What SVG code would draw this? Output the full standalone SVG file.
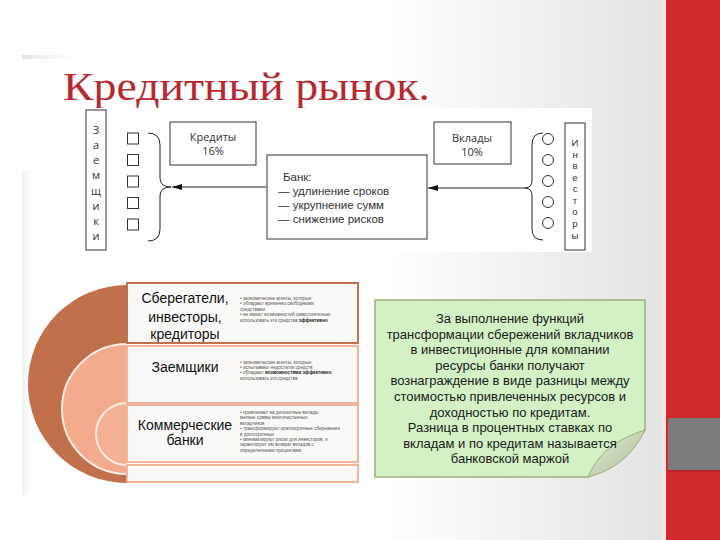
<svg xmlns="http://www.w3.org/2000/svg" width="720" height="540" viewBox="0 0 720 540">
<defs>
<linearGradient id="bg" x1="0" y1="0" x2="666" y2="0" gradientUnits="userSpaceOnUse">
<stop offset="0.58" stop-color="#FFFFFF"/>
<stop offset="1" stop-color="#E3E3E3"/>
</linearGradient>
<linearGradient id="flap" x1="0" y1="0" x2="1" y2="1">
<stop offset="0" stop-color="#E6EED8"/>
<stop offset="1" stop-color="#A9BC92"/>
</linearGradient>
<linearGradient id="ledge" x1="0" y1="0" x2="1" y2="0">
<stop offset="0" stop-color="#E2E2E2"/>
<stop offset="1" stop-color="#FFFFFF" stop-opacity="0"/>
</linearGradient>
<marker id="ah" viewBox="0 0 10 6" refX="10" refY="3" markerWidth="10" markerHeight="6" orient="auto" markerUnits="userSpaceOnUse">
<path d="M0,0 L10,3 L0,6 Z" fill="#111"/>
</marker>
<style>
.sm{font-family:"Open Sans","Liberation Sans",sans-serif;fill:#333}
.bk{font-family:"Liberation Sans",Arial,sans-serif;fill:#333;font-size:11.5px}
.vt{font-family:"Liberation Sans",Arial,sans-serif;fill:#333;font-size:9.5px;text-anchor:middle}
.box{fill:#fff;stroke:#333;stroke-width:1}
.lbl{font-family:"Liberation Sans",Arial,sans-serif;font-size:14px;fill:#111;text-anchor:middle}
.tiny{font-family:"Liberation Sans",Arial,sans-serif;font-size:4.6px;fill:#555}
.note{font-family:"Liberation Sans",Arial,sans-serif;font-size:13px;fill:#1a1a1a;text-anchor:middle}
.row{fill:#FBF9F8;stroke-width:2}
.conn{stroke:#222;stroke-width:1;fill:none}
</style>
</defs>

<!-- background -->
<rect x="0" y="0" width="720" height="540" fill="url(#bg)"/>
<rect x="22" y="55" width="70" height="4" fill="url(#ledge)"/>
<rect x="22" y="170" width="14" height="325" fill="url(#ledge)" opacity="0.5"/>
<rect x="662" y="0" width="4" height="540" fill="#F3E6E6"/>
<rect x="666" y="0" width="54" height="540" fill="#D1282E"/>
<rect x="666" y="0" width="2" height="540" fill="#E3222A"/>
<rect x="668" y="418" width="52" height="52" fill="#7C7C7C"/>
<rect x="668" y="470" width="52" height="1.5" fill="#B02026"/>

<!-- title -->
<text id="title" x="63" y="100" font-family="'Liberation Serif','DejaVu Serif',serif" font-size="41" fill="#B8282E" textLength="367" lengthAdjust="spacingAndGlyphs">Кредитный рынок.</text>

<!-- top diagram -->
<rect x="80" y="108" width="512" height="144" fill="#FFFFFF"/>

<g id="zaemshiki">
<rect class="box" x="86" y="110" width="20" height="140"/>
<g class="sm" font-size="11" text-anchor="middle">
<text x="96" y="134">З</text><text x="96" y="149">а</text><text x="96" y="164">е</text><text x="96" y="179">м</text>
<text x="96" y="195">щ</text><text x="96" y="210">и</text><text x="96" y="225">к</text><text x="96" y="240">и</text>
</g>
</g>

<g id="borrowers">
<rect class="box" x="127.5" y="133" width="11" height="11"/>
<rect class="box" x="127.5" y="154.5" width="11" height="11"/>
<rect class="box" x="127.5" y="176" width="11" height="11"/>
<rect class="box" x="127.5" y="197.5" width="11" height="11"/>
<rect class="box" x="127.5" y="219" width="11" height="11"/>
</g>

<g id="credits">
<rect class="box" x="170" y="122" width="86" height="43"/>
<text class="sm" x="213" y="141" font-size="11" text-anchor="middle">Кредиты</text>
<text class="sm" x="213" y="155" font-size="11" text-anchor="middle">16%</text>
</g>

<g id="bank">
<rect class="box" x="267" y="155" width="160" height="84"/>
<text class="bk" x="283" y="181">Банк:</text>
<text class="bk" x="278" y="195">— удлинение сроков</text>
<text class="bk" x="278" y="209">— укрупнение сумм</text>
<text class="bk" x="278" y="223">— снижение рисков</text>
</g>

<g id="deposits">
<rect class="box" x="434" y="122" width="77" height="42"/>
<text class="sm" x="472" y="142" font-size="11" text-anchor="middle">Вклады</text>
<text class="sm" x="472" y="156" font-size="11" text-anchor="middle">10%</text>
</g>

<g id="investors-circles" fill="#fff" stroke="#333" stroke-width="1">
<circle cx="548" cy="139" r="5.5"/>
<circle cx="548" cy="160" r="5.5"/>
<circle cx="548" cy="181" r="5.5"/>
<circle cx="548" cy="202" r="5.5"/>
<circle cx="548" cy="223" r="5.5"/>
</g>

<g id="investory">
<rect class="box" x="565" y="123" width="20" height="127"/>
<text class="vt" x="575" y="146" font-size="11.5">И</text>
<text class="vt" x="575" y="157.5">н</text>
<text class="vt" x="575" y="169">в</text>
<text class="vt" x="575" y="180.5">е</text>
<text class="vt" x="575" y="192">с</text>
<text class="vt" x="575" y="203.5">т</text>
<text class="vt" x="575" y="215">о</text>
<text class="vt" x="575" y="226.5">р</text>
<text class="vt" x="575" y="239">ы</text>
</g>

<g id="connectors">
<path class="conn" d="M148,133 Q160,133 160,145 V178 Q160,187 171,187 Q160,187 160,196 V229 Q160,241 148,241"/>
<path class="conn" d="M543,133 Q532,133 532,145 V180 Q532,188 525,188 Q532,188 532,196 V229 Q532,240 543,240"/>
<line class="conn" x1="266" y1="187" x2="172" y2="187" marker-end="url(#ah)"/>
<line class="conn" x1="525" y1="188" x2="428" y2="188" marker-end="url(#ah)"/>
</g>

<!-- semicircles -->
<g id="semicircles">
<path d="M127,285 A99,99 0 0 0 127,483 Z" fill="#C0714C"/>
<path d="M127,344 A65,65 0 0 0 127,474 Z" fill="#F3AB8C" stroke="#FCEDE4" stroke-width="2"/>
<path d="M127,403 A31,31 0 0 0 127,465 Z" fill="#F4B094" stroke="#FCEDE4" stroke-width="2"/>
</g>

<!-- table rows -->
<g id="row-savers">
<rect class="row" x="127" y="283" width="231" height="60" stroke="#C0714C"/>
<text class="lbl" x="185" y="303">Сберегатели,</text>
<text class="lbl" x="185" y="322">инвесторы,</text>
<text class="lbl" x="185" y="339">кредиторы</text>
<g class="tiny">
<text x="240" y="300">• экономические агенты, которые:</text>
<text x="240" y="305.4">• обладают временно свободными</text>
<text x="240" y="310.8">  средствами</text>
<text x="240" y="316.2">• не имеют возможностей самостоятельно</text>
<text x="240" y="321.6">  использовать эти средства <tspan font-weight="bold" fill="#222">эффективно</tspan></text>
</g>
</g>

<g id="row-borrowers">
<rect class="row" x="127" y="346" width="231" height="57" stroke="#F2B49B"/>
<text class="lbl" x="185" y="372">Заемщики</text>
<g class="tiny">
<text x="240" y="363.5">• экономические агенты, которые:</text>
<text x="240" y="368.9">• испытывают недостаток средств</text>
<text x="240" y="374.3">• обладают <tspan font-weight="bold" fill="#222">возможностями эффективно</tspan></text>
<text x="240" y="379.7">  использовать эти средства</text>
</g>
</g>

<g id="row-banks">
<rect class="row" x="127" y="405" width="231" height="57" stroke="#F2B49B"/>
<text class="lbl" x="185" y="430">Коммерческие</text>
<text class="lbl" x="185" y="445">банки</text>
<g class="tiny">
<text x="240" y="414">• привлекают на депозитные вклады</text>
<text x="240" y="419.4">  мелкие суммы многочисленных</text>
<text x="240" y="424.8">  вкладчиков</text>
<text x="240" y="430.2">• трансформируют краткосрочные сбережения</text>
<text x="240" y="435.6">  в долгосрочные</text>
<text x="240" y="441">• минимизируют риски для инвесторов, и</text>
<text x="240" y="446.4">  гарантируют им возврат вкладов с</text>
<text x="240" y="451.8">  определенными процентами</text>
</g>
</g>

<g id="row-empty">
<rect class="row" x="127" y="465" width="231" height="17" stroke="#F2B49B"/>
</g>

<!-- green note -->
<g id="note">
<path d="M375,300 H645 V430 Q622,462 588,477 H375 Z" fill="#D3F1C4" stroke="#9FAE7C" stroke-width="1.5"/>
<path d="M588,477 C598,454 614,440 645,430 C632,457 612,471 588,477 Z" fill="url(#flap)" stroke="#9FAE7C" stroke-width="1"/>
<text class="note" x="510" y="323">За выполнение функций</text>
<text class="note" x="510" y="338.6">трансформации сбережений вкладчиков</text>
<text class="note" x="510" y="354.2">в инвестиционные для компании</text>
<text class="note" x="510" y="369.8">ресурсы банки получают</text>
<text class="note" x="510" y="385.4">вознаграждение в виде разницы между</text>
<text class="note" x="510" y="401">стоимостью привлеченных ресурсов и</text>
<text class="note" x="510" y="416.6">доходностью по кредитам.</text>
<text class="note" x="510" y="432.2">Разница в процентных ставках по</text>
<text class="note" x="510" y="447.8">вкладам и по кредитам называется</text>
<text class="note" x="510" y="463.4">банковской маржой</text>
</g>
</svg>
